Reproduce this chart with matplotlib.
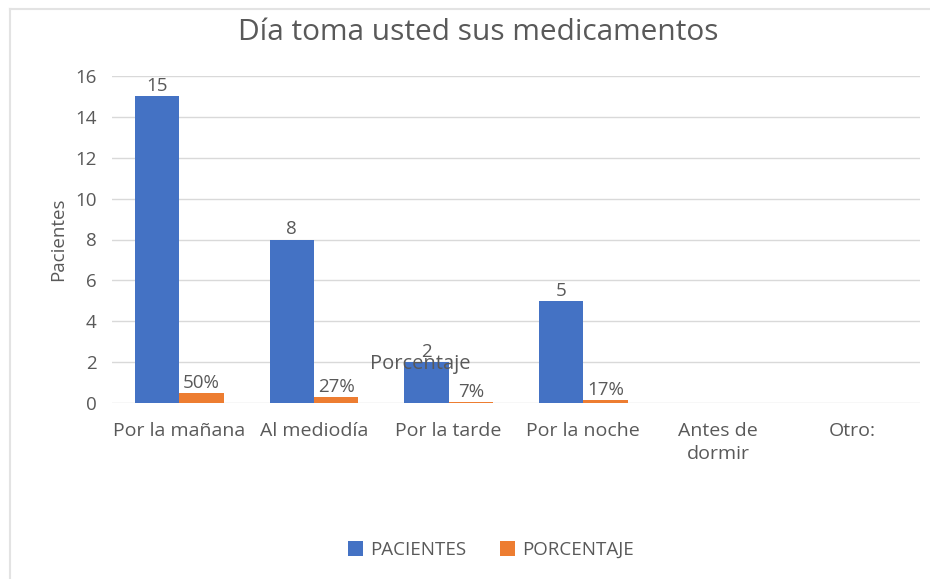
import numpy as np
import matplotlib
matplotlib.use('Agg')
import matplotlib.pyplot as plt
from matplotlib.lines import Line2D

# --- Data ---
categories = ['Por la mañana', 'Al mediodía', 'Por la tarde', 'Por la noche',
              'Antes de\ndormir', 'Otro:']
pacientes = [15, 8, 2, 5, 0, 0]
porcentaje = [0.50, 0.27, 0.07, 0.17, 0, 0]
pct_labels = ['50%', '27%', '7%', '17%', None, None]

BLUE = '#4472C4'
ORANGE = '#ED7D31'
TEXT = '#595959'
GRID = '#D9D9D9'

plt.rcParams['font.family'] = ['Open Sans', 'DejaVu Sans']

fig = plt.figure(figsize=(9.3, 5.79), dpi=100)
ax = fig.add_axes([112 / 930, 1 - 403 / 579, 808 / 930, 327 / 579])

x = np.arange(len(categories))
w = 0.33
ax.bar(x - w / 2, pacientes, w, color=BLUE, label='PACIENTES', zorder=3)
ax.bar(x + w / 2, porcentaje, w, color=ORANGE, label='PORCENTAJE', zorder=3)

# data labels
for i, v in enumerate(pacientes):
    if v:
        ax.text(x[i] - w / 2, v + 0.05, str(v), ha='center', va='bottom',
                fontsize=13.5, color=TEXT)
for i, lab in enumerate(pct_labels):
    if lab:
        ax.text(x[i] + w / 2, porcentaje[i] + 0.05, lab, ha='center', va='bottom',
                fontsize=13.5, color=TEXT)

ax.set_xlim(-0.5, len(categories) - 0.5)
ax.set_ylim(0, 16)
ax.set_yticks(range(0, 17, 2))
ax.set_xticks(x)
ax.set_xticklabels(categories, fontsize=14, color=TEXT, linespacing=1.3)
ax.tick_params(axis='y', labelsize=13.5, labelcolor=TEXT, length=0, pad=11)
ax.tick_params(axis='x', length=0, pad=14)
ax.grid(axis='y', color=GRID, linewidth=1, zorder=0)
for s in ax.spines.values():
    s.set_visible(False)

ax.set_ylabel('Pacientes', fontsize=13.5, color=TEXT, labelpad=6)

fig.text(478 / 930, 1 - 33 / 579, 'Día toma usted sus medicamentos', ha='center',
         va='center', fontsize=21.5, color=TEXT)

# stray axis-title text left in the original chart
fig.text(420 / 930, 1 - 364 / 579, 'Porcentaje', ha='center', va='center',
         fontsize=14.5, color=TEXT, zorder=1)

ax.legend(loc='center', bbox_to_anchor=(491 / 930, 1 - 550 / 579),
          bbox_transform=fig.transFigure, ncol=2, frameon=False,
          fontsize=13.5, labelcolor=TEXT, handlelength=0.8, handleheight=0.8,
          columnspacing=1.8, handletextpad=0.4)

# chart border (top and left visible)
fig.add_artist(Line2D([10 / 930, 10 / 930], [0, 1 - 9 / 579],
                      transform=fig.transFigure, color='#E3E3E3', lw=1.5))
fig.add_artist(Line2D([10 / 930, 1], [1 - 9 / 579, 1 - 9 / 579],
                      transform=fig.transFigure, color='#E3E3E3', lw=1.5))

fig.savefig('out.png', dpi=100)
